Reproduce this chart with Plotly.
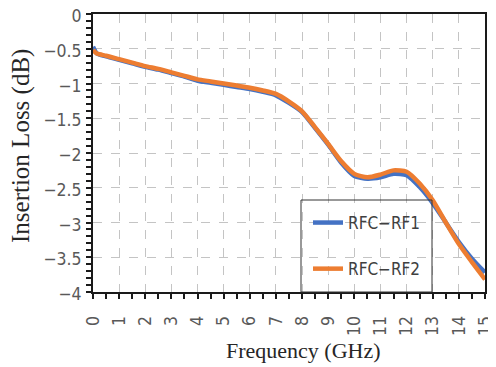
import plotly.graph_objects as go

freq = [0, 0.15, 0.5, 1, 1.5, 2, 2.5, 3, 3.5, 4, 4.5, 5, 5.5, 6, 6.5, 7, 7.5,
        8, 8.5, 9, 9.5, 10, 10.5, 11, 11.5, 12, 12.5, 13, 13.5, 14, 14.5, 15]
rf1 = [-0.47, -0.57, -0.61, -0.66, -0.71, -0.76, -0.80, -0.85, -0.90, -0.96,
       -0.99, -1.02, -1.05, -1.08, -1.12, -1.17, -1.28, -1.41, -1.64, -1.88,
       -2.14, -2.33, -2.37, -2.35, -2.30, -2.32, -2.49, -2.72, -3.00, -3.28,
       -3.52, -3.72]
rf2 = [-0.52, -0.57, -0.60, -0.65, -0.70, -0.75, -0.79, -0.84, -0.89, -0.94,
       -0.97, -1.00, -1.03, -1.06, -1.10, -1.15, -1.26, -1.40, -1.63, -1.87,
       -2.12, -2.30, -2.35, -2.31, -2.25, -2.27, -2.44, -2.68, -3.00, -3.31,
       -3.57, -3.82]
names = ["RFC−RF1", "RFC−RF2"]
colors = ["#4472C4", "#ED7D31"]

narrow = "Liberation Sans Narrow, DejaVu Sans Condensed, Arial Narrow, sans-serif"
tick_font = dict(family=narrow, size=17.5, color="#595959")

# plot area in page pixels (reference): x 93..485, y 14..292 ; page has ~8px body offset
PL, PR, PT, PB = 93, 485, 14, 292
PW, PH = PR - PL, PB - PT

def px(xp):
    return (xp - PL) / PW

def py(yp):
    return (PB - yp) / PH

fig = go.Figure()
for i, ys in enumerate([rf1, rf2]):
    fig.add_trace(go.Scatter(
        x=freq, y=ys, mode="lines", name=names[i],
        line=dict(color=colors[i], width=4.5, shape="spline", smoothing=0.6),
        legendgroup=names[i],
    ))

axis_common = dict(
    showline=True, linecolor="#1a1a1a", linewidth=2, mirror=True,
    showgrid=True, gridcolor="#c4c4c4", griddash="dash", gridwidth=1,
    zeroline=False, ticks="outside", ticklen=5, tickcolor="#1a1a1a", tickwidth=1.5,
    tickfont=tick_font, automargin=False, ticklabeloverflow="allow",
)

fig.update_xaxes(range=[0, 15], dtick=1, tick0=0, tickangle=-90,
                 minor=dict(dtick=0.5, ticks="outside", ticklen=5, tickcolor="#1a1a1a",
                            tickwidth=1.5, showgrid=False),
                 ticklabelstandoff=10, **axis_common)
fig.update_yaxes(range=[-4, 0], dtick=0.5, tick0=0,
                 minor=dict(dtick=0.1, ticks="outside", ticklen=5, tickcolor="#1a1a1a",
                            tickwidth=1.5, showgrid=False),
                 ticklabelstandoff=1, ticklabelshift=2, **axis_common)

fig.update_layout(
    width=488, height=359,
    margin=dict(l=85, r=11, t=6, b=75, autoexpand=False),
    paper_bgcolor="white", plot_bgcolor="white",
    showlegend=True,
    legend=dict(
        x=px(300), y=py(205), xanchor="left", yanchor="top",
        bgcolor="rgba(0,0,0,0)", borderwidth=0,
        font=dict(family=narrow, size=17, color="#404040"),
        traceorder="grouped", tracegroupgap=21, indentation=8,
    ),
    shapes=[
        dict(type="rect", xref="paper", yref="paper",
             x0=px(301), x1=px(432), y0=0, y1=py(200),
             line=dict(color="#333333", width=1), fillcolor="rgba(0,0,0,0)", layer="above"),
    ],
    annotations=[
        dict(text="Frequency (GHz)", xref="paper", yref="paper",
             x=px(303.5), y=py(350), xanchor="center", yanchor="middle",
             showarrow=False, font=dict(family="Liberation Serif, serif", size=22, color="#262626")),
        dict(text="Insertion Loss (dB)", xref="paper", yref="paper",
             x=px(21), y=py(146), xanchor="center", yanchor="middle",
             textangle=-90, showarrow=False,
             font=dict(family="Liberation Serif, serif", size=25, color="#262626")),
    ],
)

fig.write_html("out.html")
